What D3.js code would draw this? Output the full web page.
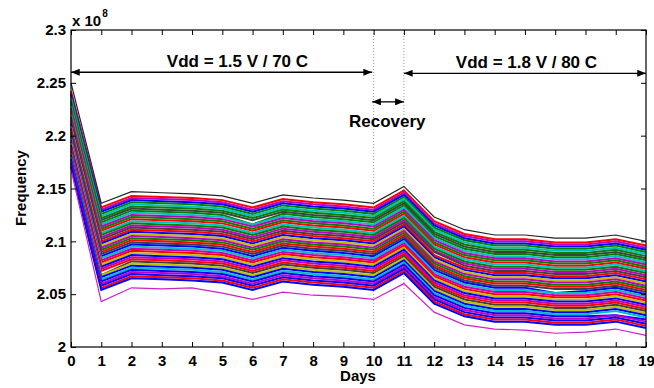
<!DOCTYPE html>
<html lang="en">
<head>
<meta charset="UTF-8">
<title>Frequency vs Days</title>
<script src="https://cdn.jsdelivr.net/npm/d3@7/dist/d3.min.js"></script>
<style>
    body { margin: 0; background: #fff; }
    svg { display: block; font-family: "Liberation Sans", Arial, Helvetica, sans-serif; font-weight: bold; }
</style>
</head>
<body>
<svg width="654" height="388"></svg>
<script>

    // days on the x axis
    var days = [0,1,2,3,4,5,6,7,8,9,10,11,12,13,14,15,16,17,18,19];
    // y ticks in MHz (shown as x 10^8 Hz)
    var yTicks = [200,205,210,215,220,225,230];

    // frequency per ring oscillator, MHz
    var topLine    = [225.0,213.6,214.7,214.6,214.5,214.3,213.6,214.4,214.1,213.9,213.6,215.2,212.3,211.1,210.6,210.6,210.3,210.3,210.6,210.0];
    var bottomLine = [216.8,204.3,205.6,205.5,205.6,205.1,204.5,205.2,204.9,204.8,204.5,206.0,203.3,202.1,201.7,201.6,201.3,201.4,201.7,201.1];

    var bandLines = [
        [224.2,213.2,214.3,214.2,214.1,213.9,213.2,214.0,213.7,213.5,213.2,214.8,211.9,210.7,210.2,210.2,209.9,209.9,210.2,209.6],
        [224.0,213.0,214.1,214.0,213.9,213.7,213.0,213.8,213.5,213.3,213.0,214.6,211.7,210.5,210.0,210.0,209.7,209.7,210.0,209.4],
        [223.9,212.8,213.9,213.8,213.7,213.5,212.8,213.6,213.3,213.1,212.8,214.4,211.5,210.3,209.8,209.8,209.5,209.5,209.8,209.2],
        [223.7,212.6,213.7,213.6,213.5,213.3,212.6,213.4,213.1,212.9,212.6,214.2,211.3,210.1,209.6,209.6,209.3,209.3,209.6,209.0],
        [223.5,212.4,213.5,213.4,213.3,213.1,212.4,213.2,212.9,212.7,212.4,214.0,211.1,209.9,209.4,209.4,209.1,209.1,209.4,208.8],
        [223.3,212.2,213.3,213.2,213.1,212.9,212.2,213.0,212.7,212.5,212.2,213.8,210.9,209.7,209.2,209.2,208.9,208.9,209.2,208.6],
        [223.1,212.0,213.1,213.0,212.9,212.7,212.0,212.8,212.5,212.3,212.0,213.6,210.7,209.5,209.0,209.0,208.7,208.7,209.0,208.4],
        [222.9,211.8,212.9,212.8,212.7,212.5,211.6,212.6,212.3,212.1,211.8,213.4,210.5,209.3,208.8,208.8,208.5,208.5,208.8,208.2],
        [222.8,211.6,212.7,212.6,212.5,212.3,211.6,212.4,212.1,211.9,211.6,213.2,210.3,209.1,208.6,208.6,208.3,208.3,208.6,208.0],
        [222.6,211.4,212.5,212.4,212.3,212.1,211.4,212.2,211.9,211.7,211.4,213.0,210.1,208.9,208.4,208.4,208.1,208.1,208.4,207.8],
        [222.4,211.2,212.3,212.2,212.1,211.9,211.2,212.0,211.7,211.5,211.2,212.8,209.9,208.7,208.2,208.2,207.9,207.9,208.2,207.6],
        [222.2,211.0,212.1,212.0,211.9,211.7,211.0,211.8,211.5,211.3,211.0,212.6,209.7,208.5,208.0,208.0,207.7,207.7,208.0,207.4],
        [222.0,210.8,211.9,211.8,211.7,211.5,210.8,211.6,211.3,211.1,210.8,212.4,209.5,208.3,207.8,207.8,207.5,207.5,207.8,207.2],
        [221.8,210.6,211.7,211.6,211.5,211.3,210.6,211.4,211.1,210.9,210.6,212.2,209.3,208.1,207.6,207.6,207.3,207.3,207.6,207.0],
        [221.7,210.4,211.5,211.4,211.3,211.1,210.4,211.2,210.9,210.7,210.4,212.0,209.1,207.9,207.4,207.4,207.1,207.1,207.4,206.8],
        [221.5,210.2,211.3,211.2,211.1,210.9,210.2,211.0,210.7,210.5,210.2,211.8,209.0,207.7,207.2,207.2,206.9,206.9,207.2,206.6],
        [221.3,210.0,211.1,211.0,210.9,210.7,210.0,210.8,210.5,210.3,210.0,211.6,208.7,207.5,207.0,207.0,206.7,206.7,207.0,206.4],
        [221.1,209.8,210.9,210.8,210.7,210.5,209.8,210.6,210.3,210.1,209.8,211.4,208.5,207.3,206.8,206.8,206.5,206.5,206.8,206.2],
        [220.9,209.6,210.7,210.6,210.5,210.3,209.6,210.4,210.1,209.9,209.6,211.2,208.3,207.1,206.6,206.6,206.3,206.3,206.6,206.0],
        [220.7,209.4,210.5,210.4,210.3,210.1,209.4,210.2,209.9,209.7,209.4,211.0,208.1,206.9,206.4,206.4,206.1,206.1,206.4,205.8],
        [220.6,209.2,210.3,210.2,210.1,209.9,209.2,210.0,209.7,209.5,209.2,210.8,207.9,206.7,206.2,206.2,205.9,205.9,206.2,205.6],
        [220.4,209.0,210.1,210.0,209.9,209.7,209.0,209.8,209.5,209.3,209.0,210.6,207.7,206.5,206.0,206.0,205.7,205.7,206.0,205.4],
        [220.2,208.8,209.9,209.8,209.7,209.5,208.8,209.6,209.3,209.1,208.8,210.4,207.5,206.3,205.8,205.8,205.5,205.5,205.8,205.2],
        [220.0,208.6,209.7,209.6,209.5,209.3,208.6,209.4,209.1,208.9,208.6,210.2,207.3,206.1,205.6,205.6,205.1,205.3,205.6,205.0],
        [219.8,208.4,209.5,209.4,209.3,209.1,208.4,209.2,208.9,208.7,208.4,210.0,207.1,205.9,205.4,205.4,205.1,205.1,205.4,204.8],
        [219.6,208.2,209.3,209.2,209.1,208.9,208.2,209.0,208.7,208.5,208.2,209.8,206.9,205.7,205.2,205.2,204.9,204.9,205.2,204.6],
        [219.4,208.0,209.1,209.0,208.9,208.7,208.0,208.8,208.5,208.3,208.0,209.6,206.7,205.5,205.0,205.0,204.7,204.7,205.0,204.4],
        [219.3,207.8,208.9,208.8,208.7,208.5,207.8,208.6,208.3,208.1,207.8,209.4,206.5,205.3,204.8,204.8,204.5,204.5,204.8,204.2],
        [219.1,207.6,208.7,208.6,208.5,208.3,207.6,208.4,208.1,207.9,207.6,209.2,206.3,205.1,204.6,204.6,204.3,204.3,204.6,204.0],
        [218.9,207.4,208.5,208.4,208.3,208.1,207.4,208.2,207.9,207.7,207.4,209.0,206.1,204.9,204.4,204.4,204.1,204.1,204.4,203.8],
        [218.7,207.2,208.3,208.2,208.1,207.9,207.2,208.0,207.7,207.5,207.2,208.8,205.9,204.7,204.2,204.2,203.9,203.9,204.2,203.6],
        [218.5,206.8,208.1,208.0,207.9,207.7,207.0,207.8,207.5,207.3,207.0,208.6,205.7,204.5,204.0,204.0,203.7,203.7,204.0,203.4],
        [218.3,206.8,207.9,207.8,207.7,207.5,206.8,207.6,207.3,207.1,206.8,208.4,205.5,204.3,203.8,203.8,203.5,203.5,203.8,203.2],
        [218.2,206.6,207.7,207.6,207.5,207.3,206.6,207.4,207.1,206.9,206.6,208.2,205.3,204.1,203.6,203.6,203.3,203.3,203.6,203.0],
        [218.0,206.4,207.5,207.4,207.3,207.1,206.4,207.2,206.9,206.7,206.4,208.0,205.1,203.9,203.4,203.4,203.1,203.1,203.4,202.8],
        [217.8,206.2,207.3,207.2,207.1,206.9,206.2,207.0,206.7,206.5,206.2,207.8,204.9,203.7,203.2,203.2,202.9,202.9,203.0,202.6],
        [217.6,206.0,207.1,207.0,206.9,206.7,206.0,206.8,206.5,206.3,206.0,207.6,204.7,203.5,203.0,203.0,202.7,202.7,203.0,202.4],
        [217.4,205.8,206.9,206.8,206.7,206.5,205.8,206.6,206.3,206.1,205.8,207.4,204.5,203.3,202.8,202.8,202.5,202.5,202.8,202.2],
        [217.2,205.6,206.7,206.6,206.5,206.3,205.6,206.4,206.1,205.9,205.6,207.2,204.3,203.1,202.6,202.6,202.3,202.3,202.6,202.0],
        [217.1,205.4,206.5,206.4,206.3,206.1,205.4,206.2,205.9,205.7,205.4,207.0,204.1,202.9,202.4,202.4,202.1,202.1,202.4,201.8]
    ];

    // old matlab color order, and which one each band line got
    var colorOrder = ['#0000ff','#008000','#ff0000','#00bfbf','#bf00bf','#bfbf00','#404040'];
    var colorIdx = [2,4,0,1,3,1,6,1,3,4,1,2,3,1,4,6,2,0,5,4,1,2,6,0,3,4,2,5,0,4,2,6,5,0,3,0,4,0,2,0];

    var svg = d3.select('svg');

    var x = d3.scaleLinear().domain([0,19]).range([71,646]);
    var y = d3.scaleLinear().domain([200,230]).range([347,30]);

    var line = d3.line()
        .x(function(d,i){ return x(days[i]); })
        .y(function(d){ return y(d); });

    // dotted markers for the recovery day
    svg.selectAll('.vline')
        .data([10,11])
        .enter().append('line')
        .attr('class','vline')
        .attr('x1',function(d){ return x(d); })
        .attr('x2',function(d){ return x(d); })
        .attr('y1',y(230))
        .attr('y2',y(200))
        .attr('stroke','#999')
        .attr('stroke-width',1)
        .attr('stroke-dasharray','1,2');

    svg.selectAll('.band')
        .data(bandLines)
        .enter().append('path')
        .attr('class','band')
        .attr('d',line)
        .attr('fill','none')
        .attr('stroke',function(d,i){ return colorOrder[colorIdx[i]]; })
        .attr('stroke-width',2);

    svg.append('path').attr('d',line(topLine))
        .attr('fill','none').attr('stroke','#222').attr('stroke-width',1.2);
    svg.append('path').attr('d',line(bottomLine))
        .attr('fill','none').attr('stroke','#cc22cc').attr('stroke-width',1.2);

    // axes, ticks point inward on all four sides
    var fmtY = function(v){ return String(+(v/100).toFixed(2)); };

    var gl = svg.append('g').attr('transform','translate(71,0)')
        .call(d3.axisLeft(y).tickValues(yTicks).tickSizeInner(-5).tickSizeOuter(0).tickPadding(5).tickFormat(fmtY));
    var gr = svg.append('g').attr('transform','translate(646,0)')
        .call(d3.axisRight(y).tickValues(yTicks).tickSizeInner(-5).tickSizeOuter(0).tickFormat(''));
    var gb = svg.append('g').attr('transform','translate(0,347)')
        .call(d3.axisBottom(x).tickValues(days).tickSizeInner(-5).tickSizeOuter(0).tickPadding(8).tickFormat(d3.format('d')));
    var gt = svg.append('g').attr('transform','translate(0,30)')
        .call(d3.axisTop(x).tickValues(days).tickSizeInner(-5).tickSizeOuter(0).tickFormat(''));

    [gl,gr,gb,gt].forEach(function(g){
        g.attr('font-family',null).attr('font-size',null);
        g.select('.domain').remove();
        g.selectAll('.tick line').attr('stroke','#000');
        g.selectAll('.tick text').attr('fill','#000').style('font-size','15px');
    });

    svg.append('rect')
        .attr('x',71).attr('y',30)
        .attr('width',646-71).attr('height',347-30)
        .attr('fill','none').attr('stroke','#000').attr('stroke-width',1.2);

    // labels
    svg.append('text').attr('x',358).attr('y',381).attr('text-anchor','middle')
        .style('font-size','15px').text('Days');
    svg.append('text').attr('transform','translate(26,188) rotate(-90)').attr('text-anchor','middle')
        .style('font-size','15px').text('Frequency');
    var ex = svg.append('text').attr('x',72).attr('y',26).style('font-size','15px');
    ex.append('tspan').text('x 10');
    ex.append('tspan').attr('dx',1).attr('dy',-9).style('font-size','10px').text('8');

    // arrows
    var defs = svg.append('defs');
    defs.append('marker')
        .attr('id','head')
        .attr('viewBox','0 0 10 8')
        .attr('refX',10).attr('refY',4)
        .attr('markerWidth',9).attr('markerHeight',7)
        .attr('markerUnits','userSpaceOnUse')
        .attr('orient','auto-start-reverse')
        .append('path').attr('d','M0,0 L10,4 L0,8 Z').attr('fill','#000');

    var arrows = [
        {from:0, to:9.95, v:226.0},
        {from:11, to:19, v:225.9},
        {from:9.95, to:11, v:223.2}
    ];
    svg.selectAll('.arrow')
        .data(arrows)
        .enter().append('line')
        .attr('class','arrow')
        .attr('x1',function(d){ return x(d.from); })
        .attr('x2',function(d){ return x(d.to); })
        .attr('y1',function(d){ return y(d.v); })
        .attr('y2',function(d){ return y(d.v); })
        .attr('stroke','#000')
        .attr('stroke-width',1.3)
        .attr('marker-start','url(#head)')
        .attr('marker-end','url(#head)');

    svg.append('text').attr('x',x(5.5)).attr('y',y(226.0)-5).attr('text-anchor','middle')
        .style('font-size','17px').text('Vdd = 1.5 V / 70 C');
    svg.append('text').attr('x',x(15.05)).attr('y',y(225.9)-5).attr('text-anchor','middle')
        .style('font-size','17px').text('Vdd = 1.8 V / 80 C');
    svg.append('text').attr('x',x(10.45)).attr('y',y(223.2)+25).attr('text-anchor','middle')
        .style('font-size','17px').text('Recovery');

</script>
</body>
</html>
